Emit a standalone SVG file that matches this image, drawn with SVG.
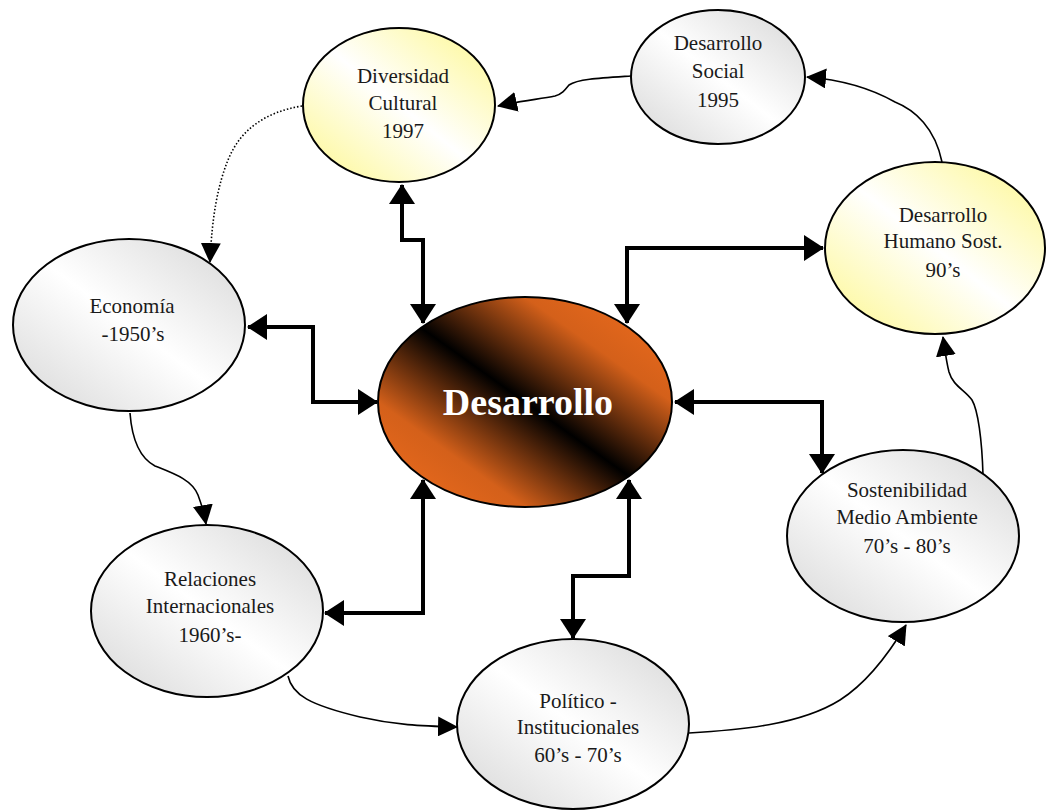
<svg xmlns="http://www.w3.org/2000/svg" width="1047" height="810" viewBox="0 0 1047 810">
<defs>
<linearGradient id="gOrange" x1="1" y1="0" x2="0" y2="1">
<stop offset="0" stop-color="#f26e1e"/>
<stop offset="0.25" stop-color="#d4601a"/>
<stop offset="0.5" stop-color="#000000"/>
<stop offset="0.75" stop-color="#d4601a"/>
<stop offset="1" stop-color="#f26e1e"/>
</linearGradient>
<linearGradient id="gGrey" x1="1" y1="0" x2="0" y2="1">
<stop offset="0" stop-color="#d6d6d6"/>
<stop offset="0.5" stop-color="#ffffff"/>
<stop offset="1" stop-color="#d6d6d6"/>
</linearGradient>
<linearGradient id="gYellow" x1="1" y1="0" x2="0" y2="1">
<stop offset="0" stop-color="#fdf78c"/>
<stop offset="0.5" stop-color="#ffffff"/>
<stop offset="1" stop-color="#fdf78c"/>
</linearGradient>
<marker id="thick" markerUnits="userSpaceOnUse" viewBox="0 0 20 26" refX="19" refY="13" markerWidth="20" markerHeight="26" orient="auto-start-reverse">
<path d="M0,0 L20,13 L0,26 z" fill="#000"/>
</marker>
<marker id="thin" markerUnits="userSpaceOnUse" viewBox="0 0 20 20" refX="19" refY="10" markerWidth="20" markerHeight="20" orient="auto">
<path d="M0,0 L20,10 L0,20 z" fill="#000"/>
</marker>
<style>
.node ellipse{stroke:#000;stroke-width:2}
.lbl{font-family:"Liberation Serif","Times New Roman",serif;font-size:21px;fill:#1a1a1a;text-anchor:middle}
.big{font-family:"Liberation Serif","Times New Roman",serif;font-size:38px;font-weight:bold;fill:#fff;text-anchor:middle}
.thick{fill:none;stroke:#000;stroke-width:4;marker-start:url(#thick);marker-end:url(#thick)}
.thin{fill:none;stroke:#000;stroke-width:1.6;marker-end:url(#thin)}
.dot{fill:none;stroke:#000;stroke-width:1.6;stroke-dasharray:1.5 2;marker-end:url(#thin)}
</style>
</defs>
<rect width="1047" height="810" fill="#fff"/>

<g id="connectors">
<path class="thick" d="M402,185 V240 H423 V323"/>
<path class="thick" d="M627,323 V248 H823"/>
<path class="thick" d="M248,327 H313 V402 H377"/>
<path class="thick" d="M325,613 H423 V480"/>
<path class="thick" d="M629,480 V576 H573 V638"/>
<path class="thick" d="M675,402 H822 V473"/>
<path class="thin" d="M631,76 C600,78 578,79 569,85 C565,90 562,94 555,96 C540,99 520,101 498,106"/>
<path class="thin" d="M942,162 C935,128 915,110 895,102 C872,89 845,80 807,77"/>
<path class="thin" d="M983,475 C982,440 978,410 972,400 C965,390 953,386 949,372 C946,360 945,350 943,337"/>
<path class="thin" d="M689,733 C740,730 800,725 840,700 C862,686 885,660 906,625"/>
<path class="thin" d="M288,676 C292,695 310,705 360,717 C395,725 420,726 457,727"/>
<path class="thin" d="M130,413 C132,440 140,458 155,466 C175,474 192,480 198,495 C201,503 204,512 206,524"/>
<path class="dot" d="M302,106 C265,112 240,130 228,160 C218,185 212,215 210,262"/>
</g>

<g id="node-desarrollo" class="node">
<ellipse cx="525" cy="402" rx="147" ry="105" fill="url(#gOrange)"/>
<text class="big" x="528" y="415">Desarrollo</text>
</g>

<g id="node-diversidad" class="node">
<ellipse cx="399" cy="105" rx="96" ry="77" fill="url(#gYellow)"/>
<text class="lbl" x="403" y="83">Diversidad</text>
<text class="lbl" x="403" y="110">Cultural</text>
<text class="lbl" x="403" y="138">1997</text>
</g>

<g id="node-social" class="node">
<ellipse cx="718" cy="77" rx="87" ry="67" fill="url(#gGrey)"/>
<text class="lbl" x="718" y="50">Desarrollo</text>
<text class="lbl" x="718" y="78">Social</text>
<text class="lbl" x="718" y="107">1995</text>
</g>

<g id="node-humano" class="node">
<ellipse cx="935" cy="248" rx="110" ry="86" fill="url(#gYellow)"/>
<text class="lbl" x="943" y="222">Desarrollo</text>
<text class="lbl" x="943" y="248">Humano Sost.</text>
<text class="lbl" x="943" y="277">90’s</text>
</g>

<g id="node-economia" class="node">
<ellipse cx="129" cy="325" rx="116" ry="86" fill="url(#gGrey)"/>
<text class="lbl" x="132" y="313">Economía</text>
<text class="lbl" x="133" y="341">-1950’s</text>
</g>

<g id="node-relaciones" class="node">
<ellipse cx="207" cy="611" rx="116" ry="86" fill="url(#gGrey)"/>
<text class="lbl" x="210" y="586">Relaciones</text>
<text class="lbl" x="210" y="613">Internacionales</text>
<text class="lbl" x="210" y="642">1960’s-</text>
</g>

<g id="node-politico" class="node">
<ellipse cx="573" cy="724" rx="116" ry="85" fill="url(#gGrey)"/>
<text class="lbl" x="578" y="708">Político -</text>
<text class="lbl" x="578" y="734">Institucionales</text>
<text class="lbl" x="578" y="762">60’s - 70’s</text>
</g>

<g id="node-sostenibilidad" class="node">
<ellipse cx="903" cy="536" rx="116" ry="86" fill="url(#gGrey)"/>
<text class="lbl" x="907" y="497">Sostenibilidad</text>
<text class="lbl" x="907" y="524">Medio Ambiente</text>
<text class="lbl" x="907" y="553">70’s - 80’s</text>
</g>
</svg>
